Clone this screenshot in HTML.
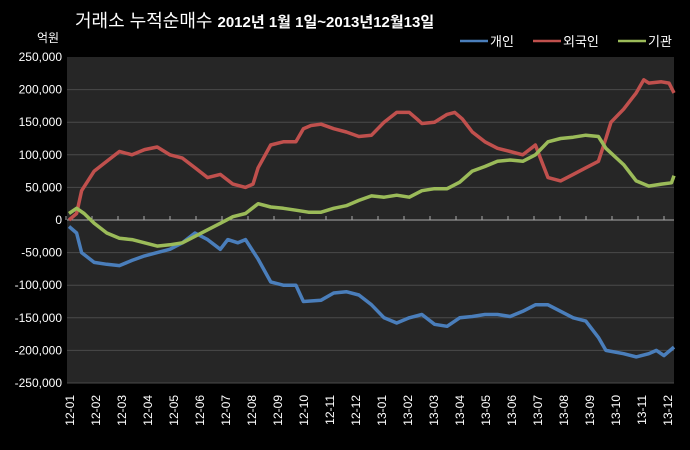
<!DOCTYPE html>
<html><head><meta charset="utf-8"><style>
body{margin:0;background:#000;width:690px;height:450px;overflow:hidden}
svg{display:block;font-family:"Liberation Sans","Noto Sans CJK KR",sans-serif}
</style></head><body>
<svg id="chart" width="690" height="450">
<rect width="690" height="450" fill="#000"/>
<text x="75" y="27" fill="#fff" font-size="18">거래소 누적순매수 <tspan font-size="15" font-weight="bold">2012년 1월 1일~2013년12월13일</tspan></text>
<text x="37" y="42" fill="#fff" font-size="12">억원</text>
<g id="legend"></g>
<rect x="67" y="57" width="607" height="326" fill="#262626"/>
<g id="grid"></g><g id="ylab"></g><g id="xlab"></g><g id="series"></g>
</svg>
<script>
const yTicks=[250000,200000,150000,100000,50000,0,-50000,-100000,-150000,-200000,-250000];
const months=["12-01","12-02","12-03","12-04","12-05","12-06","12-07","12-08","12-09","12-10","12-11","12-12","13-01","13-02","13-03","13-04","13-05","13-06","13-07","13-08","13-09","13-10","13-11","13-12"];
const seriesNames=["개인","외국인","기관"];
const tForeign=[0,0.3,0.5,1,1.5,2,2.5,3,3.5,4,4.5,5,5.5,6,6.5,7,7.3,7.5,8,8.5,9,9.3,9.6,10,10.5,11,11.5,12,12.5,13,13.5,13.8,14,14.5,15,15.3,15.6,16,16.5,17,17.5,18,18.5,18.7,19,19.5,20,20.5,21,21.3,21.5,22,22.5,22.8,23,23.5,23.8,24];
const vForeign=[0,10000,45000,75000,90000,105000,100000,108000,112000,100000,95000,80000,65000,70000,55000,50000,55000,80000,115000,120000,120000,140000,145000,147000,140000,135000,128000,130000,150000,165000,165000,155000,148000,150000,162000,165000,155000,135000,120000,110000,105000,100000,115000,95000,65000,60000,70000,80000,90000,125000,150000,170000,195000,215000,210000,212000,210000,195000];
const tIndiv=[0,0.3,0.5,1,1.5,2,2.5,3,3.5,4,4.5,5,5.5,6,6.3,6.7,7,7.5,8,8.5,9,9.3,10,10.5,11,11.5,12,12.5,13,13.5,14,14.5,15,15.5,16,16.5,17,17.5,18,18.5,19,19.5,20,20.5,21,21.3,22,22.5,23,23.3,23.6,24];
const vIndiv=[-10000,-20000,-50000,-65000,-68000,-70000,-62000,-55000,-50000,-45000,-35000,-20000,-30000,-45000,-30000,-35000,-30000,-60000,-95000,-100000,-100000,-125000,-123000,-112000,-110000,-115000,-130000,-150000,-158000,-150000,-145000,-160000,-163000,-150000,-148000,-145000,-145000,-148000,-140000,-130000,-130000,-140000,-150000,-155000,-180000,-200000,-205000,-210000,-205000,-200000,-208000,-195000];
const tInst=[0,0.3,0.6,1,1.5,2,2.5,3,3.5,4,4.5,5,5.5,6,6.5,7,7.5,8,8.5,9,9.5,10,10.5,11,11.5,12,12.5,13,13.5,14,14.5,15,15.5,16,16.5,17,17.5,18,18.5,19,19.5,20,20.5,21,21.3,22,22.5,23,23.5,23.9,24];
const vInst=[10000,18000,10000,-5000,-20000,-28000,-30000,-35000,-40000,-38000,-35000,-25000,-15000,-5000,5000,10000,25000,20000,18000,15000,12000,12000,18000,22000,30000,37000,35000,38000,35000,45000,48000,48000,58000,75000,82000,90000,92000,90000,100000,120000,125000,127000,130000,128000,110000,85000,60000,52000,55000,57000,68000];
const colors=["#4a7ebb","#c0504d","#9bbb59"];
const NS="http://www.w3.org/2000/svg";
const X0=67,X1=674,Y0=57,Y1=383;
function y(v){return Y0+(250000-v)/500000*(Y1-Y0);}
function x(t){return 69+t*(X1-69)/24;}
function mk(tag,attrs,parent){const e=document.createElementNS(NS,tag);for(const k in attrs)e.setAttribute(k,attrs[k]);parent.appendChild(e);return e;}
const grid=document.getElementById('grid'),ylab=document.getElementById('ylab'),xlab=document.getElementById('xlab'),ser=document.getElementById('series'),leg=document.getElementById('legend');
yTicks.forEach(v=>{
  if(v!==0&&v!==250000){const l=mk('line',{x1:X0,x2:X1,y1:y(v),y2:y(v),stroke:'#4a4a4a','stroke-width':1},grid);
  
  }
  const t=mk('text',{x:62,y:y(v)+4,fill:'#fff','font-size':12,'text-anchor':'end'},ylab);
  t.textContent=v.toLocaleString('en-US');
  
  
});
const z=mk('line',{x1:X0,x2:X1,y1:y(0),y2:y(0),stroke:'#aaa','stroke-width':1},grid);


months.forEach((m,i)=>{
  const px=70+i*26;
  const tk=mk('line',{x1:px-4,x2:px-4,y1:y(0)-4,y2:y(0),stroke:'#aaa'},grid);
  
  
  const t=mk('text',{x:0,y:0,fill:'#fff','font-size':12,'text-anchor':'end',transform:`translate(${px+4},395) rotate(-90)`},xlab);
  t.textContent=m;
  
  
});
[[tIndiv,vIndiv],[tForeign,vForeign],[tInst,vInst]].forEach((s,k)=>{
  const d=s[0].map((t,i)=>(i?'L':'M')+x(t).toFixed(1)+','+y(s[1][i]).toFixed(1)).join('');
  const p=mk('path',{d:d,fill:'none',stroke:colors[k],'stroke-width':3.5,'stroke-linejoin':'round'},ser);
  
  
});
const lx=[490,563,648];
seriesNames.forEach((n,k)=>{
  const l=mk('line',{x1:lx[k]-30,x2:lx[k]-2,y1:41,y2:41,stroke:colors[k],'stroke-width':2.5},leg);
  
  
  const t=mk('text',{x:lx[k],y:46,fill:'#fff','font-size':13},leg);
  t.textContent=n;
  
  
});
</script>
</body></html>
